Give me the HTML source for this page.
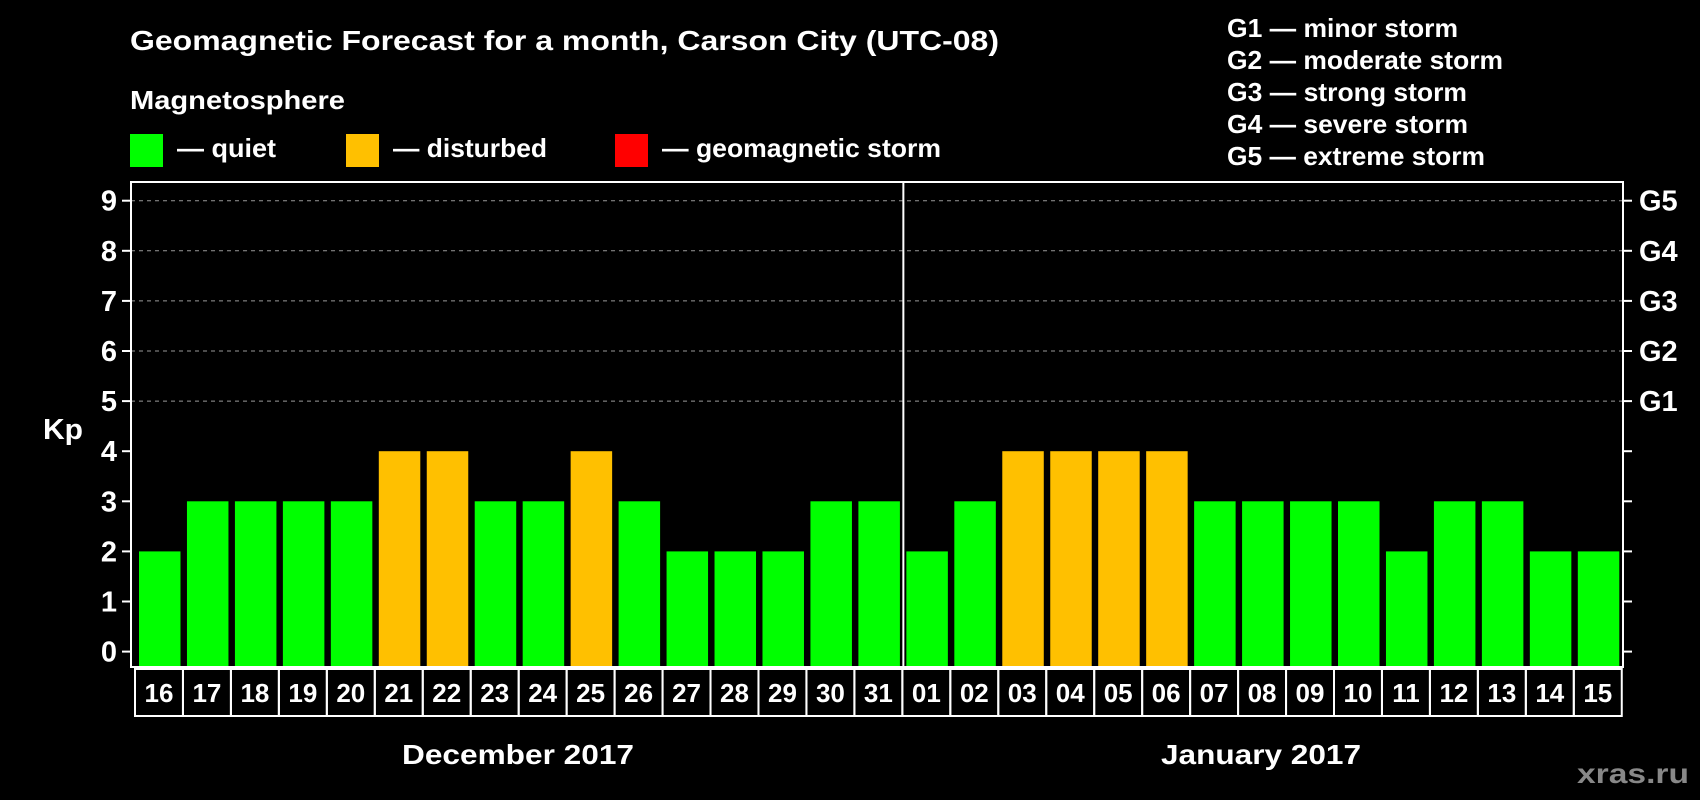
<!DOCTYPE html>
<html><head><meta charset="utf-8"><style>
html,body{margin:0;padding:0;background:#000;width:1700px;height:800px;overflow:hidden}
svg{display:block;font-family:"Liberation Sans",Arial,sans-serif;font-weight:bold}
</style></head><body>
<svg id="chart" width="1700" height="800" xmlns="http://www.w3.org/2000/svg">
<text x="130" y="50" fill="#fff" font-size="28" textLength="869" lengthAdjust="spacingAndGlyphs">Geomagnetic Forecast for a month, Carson City (UTC-08)</text>
<text x="130" y="109" fill="#fff" font-size="26" textLength="215" lengthAdjust="spacingAndGlyphs">Magnetosphere</text>
<rect x="130" y="134" width="33" height="33" fill="#00ff00"/>
<text x="177" y="157" fill="#fff" font-size="26" textLength="99" lengthAdjust="spacingAndGlyphs">— quiet</text>
<rect x="346" y="134" width="33" height="33" fill="#ffc000"/>
<text x="393" y="157" fill="#fff" font-size="26" textLength="154" lengthAdjust="spacingAndGlyphs">— disturbed</text>
<rect x="615" y="134" width="33" height="33" fill="#ff0000"/>
<text x="662" y="157" fill="#fff" font-size="26" textLength="279" lengthAdjust="spacingAndGlyphs">— geomagnetic storm</text>
<g fill="#fff" font-size="26" lengthAdjust="spacingAndGlyphs">
<text x="1227" y="37" textLength="231" lengthAdjust="spacingAndGlyphs">G1 — minor storm</text>
<text x="1227" y="69" textLength="276" lengthAdjust="spacingAndGlyphs">G2 — moderate storm</text>
<text x="1227" y="101" textLength="240" lengthAdjust="spacingAndGlyphs">G3 — strong storm</text>
<text x="1227" y="133" textLength="241" lengthAdjust="spacingAndGlyphs">G4 — severe storm</text>
<text x="1227" y="165" textLength="258" lengthAdjust="spacingAndGlyphs">G5 — extreme storm</text>
</g>
<text x="43" y="439" fill="#fff" font-size="29" textLength="40" lengthAdjust="spacingAndGlyphs">Kp</text>
<g id="grid"></g><g id="bars"></g><g id="axes"></g><g id="labels"></g>
<text x="518" y="764" fill="#fff" font-size="28" text-anchor="middle" textLength="232" lengthAdjust="spacingAndGlyphs">December 2017</text>
<text x="1261" y="764" fill="#fff" font-size="28" text-anchor="middle" textLength="200" lengthAdjust="spacingAndGlyphs">January 2017</text>
<text x="1689" y="783" fill="#888" font-size="28" text-anchor="end" textLength="112" lengthAdjust="spacingAndGlyphs">xras.ru</text>
</svg>
<script>
const days=["16","17","18","19","20","21","22","23","24","25","26","27","28","29","30","31","01","02","03","04","05","06","07","08","09","10","11","12","13","14","15"];
const kp=[2,3,3,3,3,4,4,3,3,4,3,2,2,2,3,3,2,3,4,4,4,4,3,3,3,3,2,3,3,2,2];
const yTicks=["0","1","2","3","4","5","6","7","8","9"];
const gLabels=["G1","G2","G3","G4","G5"];
const NS="http://www.w3.org/2000/svg";
const L=131,R=1623,T=182,B=667,X0=139,PITCH=47.96,BW=41.5;
function y(v){return 651.6-v*50.1;}
function x(i){return X0+i*PITCH;}
function mk(tag,attrs,parent,txt){const e=document.createElementNS(NS,tag);for(const k in attrs)e.setAttribute(k,attrs[k]);if(txt!==undefined)e.textContent=txt;document.getElementById(parent).appendChild(e);return e;}
function color(v){return v>=5?"#ff0000":v>=4?"#ffc000":"#00ff00";}
for(let v=5;v<=9;v++){const g=mk("line",{x1:L,x2:R,y1:y(v),y2:y(v),stroke:"#999","stroke-width":1,"stroke-dasharray":"4,4"},"grid");

}
kp.forEach((v,i)=>{const r=mk("rect",{x:x(i),y:y(v),width:BW,height:B-1-y(v),fill:color(v)},"bars");

});
const box=mk("rect",{x:L,y:T,width:R-L,height:B-T,fill:"none",stroke:"#fff","stroke-width":2},"axes");


const div=mk("line",{x1:x(16)-3,x2:x(16)-3,y1:T,y2:B,stroke:"#fff","stroke-width":2},"axes");


yTicks.forEach((t,i)=>{mk("line",{x1:122,x2:L,y1:y(i),y2:y(i),stroke:"#fff","stroke-width":2},"axes");
mk("line",{x1:R,x2:1632,y1:y(i),y2:y(i),stroke:"#fff","stroke-width":2},"axes");
const tx=mk("text",{x:117,y:y(i)+10,fill:"#fff","font-size":29,"text-anchor":"end"},"labels",t);

});
gLabels.forEach((t,i)=>{const tx=mk("text",{x:1639,y:y(5+i)+10,fill:"#fff","font-size":29},"labels",t);

});
days.forEach((d,i)=>{const bx=x(i)-4;
const c=mk("rect",{x:bx,y:669,width:PITCH,height:47,fill:"none",stroke:"#fff","stroke-width":2},"labels");


const tx=mk("text",{x:bx+PITCH/2,y:702,fill:"#fff","font-size":26,"text-anchor":"middle"},"labels",d);

});
</script>
</body></html>
